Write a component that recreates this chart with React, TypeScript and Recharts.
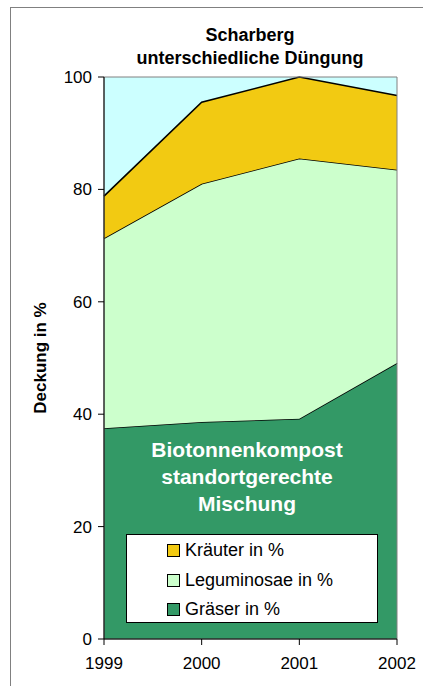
import React from 'react';
import {
  AreaChart, Area, XAxis, YAxis, CartesianGrid, ReferenceArea, Customized
} from 'recharts';

const years = [1999, 2000, 2001, 2002];
const graeser = [37.5, 38.6, 39.2, 49.1];
const leguminosae = [33.8, 42.4, 46.3, 34.4];
const kraeuter = [7.5, 14.5, 14.5, 13.2];
const yTicks = [0, 20, 40, 60, 80, 100];

const titleLines = ['Scharberg', 'unterschiedliche Düngung'];
const noteLines = ['Biotonnenkompost', 'standortgerechte', 'Mischung'];

const SERIES = [
  { key: 'kraeuter', name: 'Kräuter in %', color: '#F2CA12' },
  { key: 'leguminosae', name: 'Leguminosae in %', color: '#CCFFCC' },
  { key: 'graeser', name: 'Gräser in %', color: '#339966' },
];

const data = years.map((year, i) => ({
  year,
  graeser: graeser[i],
  leguminosae: leguminosae[i],
  kraeuter: kraeuter[i],
}));

const FONT = '"Liberation Sans", Arial, sans-serif';

// legend box drawn over the grass area, like the original
const LegendBox = () => (
  <div style={{
    position: 'absolute', left: 126, top: 534, width: 252, height: 89,
    background: '#fff', border: '1px solid #000', boxSizing: 'border-box',
    fontFamily: FONT, fontSize: 18, color: '#000', paddingTop: 1,
  }}>
    {SERIES.map((s) => (
      <div key={s.key} style={{ display: 'flex', alignItems: 'center', height: 29.5, paddingLeft: 40 }}>
        <span style={{
          display: 'inline-block', width: 11, height: 11, background: s.color,
          border: '1px solid #000', marginRight: 5,
        }} />
        <span>{s.name}</span>
      </div>
    ))}
  </div>
);

const Note = () => (
  <div style={{
    position: 'absolute', left: 147, top: 436, width: 200, textAlign: 'center',
    fontFamily: FONT, fontSize: 21, fontWeight: 'bold', color: '#fff', lineHeight: '27px',
  }}>
    {noteLines.map((t) => <div key={t}>{t}</div>)}
  </div>
);

const Decorations = () => (
  <g fontFamily={FONT}>
    {titleLines.map((t, i) => (
      <text key={t} x={250} y={41 + i * 23} textAnchor="middle" fontSize={18} fontWeight="bold" fill="#000">{t}</text>
    ))}
    <text x={40} y={358} transform="rotate(-90 40 358)" textAnchor="middle" dominantBaseline="central"
      fontSize={17} fontWeight="bold" fill="#000">Deckung in %</text>
  </g>
);

export default function App() {
  return (
    <div style={{ position: 'absolute', left: 0, top: 0, width: 423, height: 686, overflow: 'hidden', background: '#fff' }}>
      <div style={{
        position: 'absolute', left: 10, top: 7, width: 600, height: 800,
        borderLeft: '1px solid #808080', borderTop: '1px solid #808080',
      }} />
      <div style={{ position: 'absolute', left: 0, top: 0 }}>
        <AreaChart width={423} height={686} data={data} margin={{ top: 77, right: 26, bottom: 17, left: 44 }}>
          <CartesianGrid fill="#CCFFFF" horizontal={false} vertical={false} />
          <XAxis
            dataKey="year" type="number" domain={[1999, 2002]} ticks={years} height={30}
            stroke="#000" tickSize={6} tickMargin={12}
            tick={{ fill: '#000', fontSize: 17, fontFamily: FONT }}
          />
          <YAxis
            type="number" domain={[0, 100]} ticks={yTicks} width={60}
            stroke="#000" tickSize={6} tickMargin={6}
            tick={{ fill: '#000', fontSize: 17, fontFamily: FONT }}
          />
          <Area type="linear" dataKey="graeser" stackId="1" stroke="#000" strokeWidth={1.6}
            fill="#339966" fillOpacity={1} isAnimationActive={false} />
          <Area type="linear" dataKey="leguminosae" stackId="1" stroke="#000" strokeWidth={1.6}
            fill="#CCFFCC" fillOpacity={1} isAnimationActive={false} />
          <Area type="linear" dataKey="kraeuter" stackId="1" stroke="#000" strokeWidth={1.6}
            fill="#F2CA12" fillOpacity={1} isAnimationActive={false} />
          <ReferenceArea x1={1999} x2={2002} y1={0} y2={100} fill="none" stroke="#808080" strokeWidth={1} />
          <Customized component={Decorations} />
        </AreaChart>
      </div>
      <Note />
      <LegendBox />
    </div>
  );
}
